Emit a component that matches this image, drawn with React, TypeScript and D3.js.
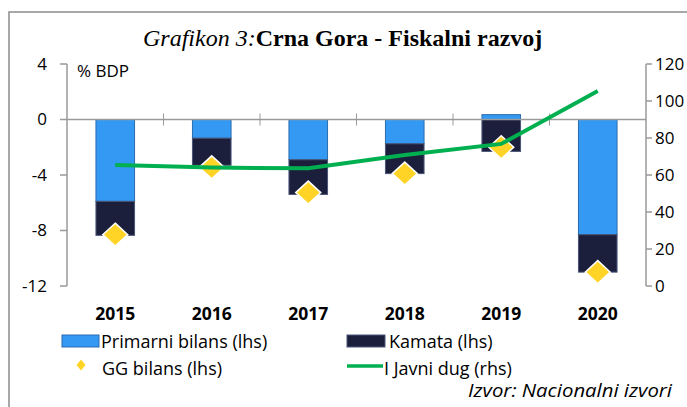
import React from "react";
import * as d3 from "d3";

const years = ["2015", "2016", "2017", "2018", "2019", "2020"];
const primarniBilans = [-5.9, -1.35, -2.9, -1.75, 0.35, -8.3];
const kamata = [-2.45, -1.95, -2.5, -2.15, -2.3, -2.7];
const ggBilans = [-8.3, -3.45, -5.27, -3.9, -2.0, -11.0];
const javniDug = [65.4, 64.0, 63.6, 70.8, 76.8, 105.4];
const leftTicks = [4, 0, -4, -8, -12];
const rightTicks = [0, 20, 40, 60, 80, 100, 120];

const W = 687;
const H = 407;
const FONT = "'Open Sans', 'Noto Sans', sans-serif";
const C_BLUE = "#3399f3";
const C_BLUE_STROKE = "#2b6cb0";
const C_DARK = "#1c1f3c";
const C_DARK_STROKE = "#4a5678";
const C_GOLD = "#ffd426";
const C_GREEN = "#00b050";
const C_AXIS = "#9a9a9a";

function diamondPath(hw: number, hh: number) {
  const p = d3.path();
  p.moveTo(0, -hh);
  p.lineTo(hw, 0);
  p.lineTo(0, hh);
  p.lineTo(-hw, 0);
  p.closePath();
  return p.toString();
}

export default function App() {
  const left = 67;
  const right = 646;
  const top = 64;
  const bottom = 286;

  const x = d3.scaleBand<string>().domain(years).range([left, right]).paddingInner(0.6).paddingOuter(0.3);
  const xc = (i: number) => (x(years[i]) as number) + x.bandwidth() / 2;
  const yL = d3.scaleLinear().domain([-12, 4]).range([bottom, top]);
  const yR = d3.scaleLinear().domain([0, 120]).range([bottom, top]);

  const rows = years.map((yr, i) => ({ yr, primarni: primarniBilans[i], kamata: kamata[i] }));
  const stack = d3.stack<any>().keys(["primarni", "kamata"]).offset(d3.stackOffsetDiverging);
  const series = stack(rows);
  const fills = [C_BLUE, C_DARK];
  const strokes = [C_BLUE_STROKE, C_DARK_STROKE];

  const line = d3
    .line<number>()
    .x((_, i) => xc(i))
    .y((d) => yR(d));

  const step = (right - left) / years.length;
  const boundaries = d3.range(1, years.length).map((k) => left + k * step);

  const bigDiamond = diamondPath(12.5, 11.5);
  const smallDiamond = diamondPath(4.5, 5.5);

  return (
    <svg width={W} height={H} style={{ position: "absolute", left: 0, top: 0 }}>
      <rect x={0} y={0} width={W} height={H} fill="#ffffff" />
      <rect x={9} y={12} width={W + 20} height={H + 20} fill="none" stroke="#8c8c8c" strokeWidth={1.5} />

      <text x={143} y={46} fontFamily="'Liberation Serif', 'Times New Roman', serif" fontSize={24} fill="#000">
        <tspan fontStyle="italic">Grafikon 3:</tspan>
        <tspan fontWeight="bold">Crna Gora - Fiskalni razvoj</tspan>
      </text>

      {/* left axis */}
      <line x1={left} x2={left} y1={top} y2={bottom} stroke={C_AXIS} strokeWidth={1.5} />
      {leftTicks.map((t) => (
        <g key={"l" + t}>
          <line x1={left - 7} x2={left} y1={yL(t)} y2={yL(t)} stroke={C_AXIS} strokeWidth={1.5} />
          <text x={47} y={yL(t)} dy="0.35em" textAnchor="end" fontFamily={FONT} fontSize={17} fill="#000">
            {t}
          </text>
        </g>
      ))}
      <text x={77} y={77} fontFamily={FONT} fontSize={17} fill="#000">% BDP</text>

      {/* right axis */}
      <line x1={right} x2={right} y1={top} y2={bottom} stroke={C_AXIS} strokeWidth={1.5} />
      {rightTicks.map((t) => (
        <g key={"r" + t}>
          <line x1={right} x2={right + 6} y1={yR(t)} y2={yR(t)} stroke={C_AXIS} strokeWidth={1.5} />
          <text x={655} y={yR(t)} dy="0.35em" textAnchor="start" fontFamily={FONT} fontSize={17} fill="#000">
            {t}
          </text>
        </g>
      ))}

      {/* bars */}
      {series.map((s, si) =>
        s.map((d, i) => {
          const y0 = yL(d[0]);
          const y1 = yL(d[1]);
          return (
            <rect
              key={si + "-" + i}
              x={x(years[i])}
              width={x.bandwidth()}
              y={Math.min(y0, y1)}
              height={Math.abs(y1 - y0)}
              fill={fills[si]}
              stroke={strokes[si]}
              strokeWidth={1}
            />
          );
        })
      )}

      {/* zero line with category ticks */}
      <line x1={left} x2={right} y1={yL(0)} y2={yL(0)} stroke={C_AXIS} strokeWidth={1.5} />
      {boundaries.map((b) => (
        <line key={"b" + b} x1={b} x2={b} y1={yL(0) - 6} y2={yL(0) + 6} stroke={C_AXIS} strokeWidth={1} />
      ))}

      {/* GG diamonds */}
      {ggBilans.map((v, i) => (
        <path
          key={"g" + i}
          d={bigDiamond}
          transform={`translate(${xc(i)},${yL(v)})`}
          fill={C_GOLD}
          stroke="#ffffff"
          strokeWidth={1.5}
        />
      ))}

      {/* debt line */}
      <path d={line(javniDug) as string} fill="none" stroke={C_GREEN} strokeWidth={4} />

      {/* year labels */}
      {years.map((yr, i) => (
        <text key={yr} x={xc(i)} y={320} textAnchor="middle" fontFamily={FONT} fontWeight="bold" fontSize={17.5} fill="#000">
          {yr}
        </text>
      ))}

      {/* legend */}
      <rect x={62} y={335} width={37} height={12} fill={C_BLUE} stroke={C_BLUE_STROKE} strokeWidth={1} />
      <text x={101} y={348} fontFamily={FONT} fontSize={18} fill="#000">Primarni bilans (lhs)</text>
      <rect x={347} y={335} width={38} height={12} fill={C_DARK} stroke={C_DARK_STROKE} strokeWidth={1} />
      <text x={389} y={348} fontFamily={FONT} fontSize={18} fill="#000">Kamata (lhs)</text>
      <path d={smallDiamond} transform="translate(81,365)" fill={C_GOLD} />
      <text x={102} y={375} fontFamily={FONT} fontSize={18} fill="#000">GG bilans (lhs)</text>
      <line x1={347} x2={383} y1={366} y2={366} stroke={C_GREEN} strokeWidth={3.5} />
      <text x={384} y={375} fontFamily={FONT} fontSize={18} fill="#000">I Javni dug (rhs)</text>

      <text x={468} y={397} textLength={204} lengthAdjust="spacingAndGlyphs" fontFamily={FONT} fontStyle="italic" fontSize={18} fill="#000">
        Izvor: Nacionalni izvori
      </text>
    </svg>
  );
}
